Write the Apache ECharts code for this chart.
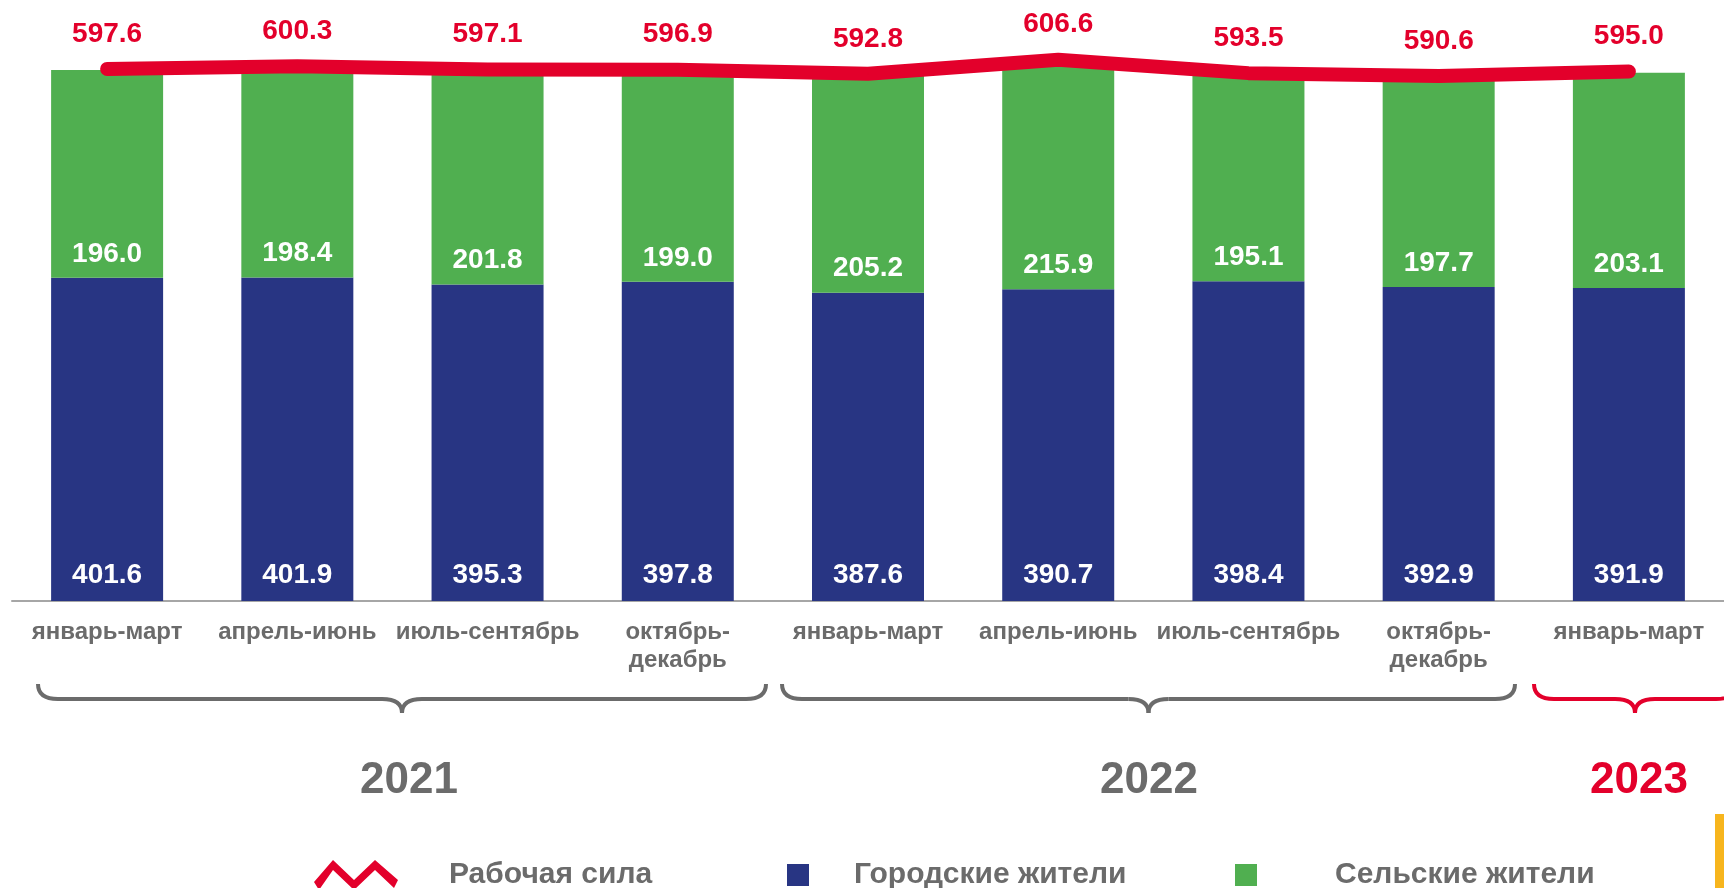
<!DOCTYPE html>
<html>
<head>
<meta charset="utf-8">
<script src="https://cdn.jsdelivr.net/npm/echarts@6/dist/echarts.min.js"></script>
<style>
  html, body { margin: 0; padding: 0; background: #fff; }
  #main { width: 1724px; height: 888px; }
</style>
</head>
<body>
<div id="main"></div>
<script>
// данные
var categories = ['январь-март', 'апрель-июнь', 'июль-сентябрь', 'октябрь-\nдекабрь',
                  'январь-март', 'апрель-июнь', 'июль-сентябрь', 'октябрь-\nдекабрь',
                  'январь-март']
var urban = [401.6, 401.9, 395.3, 397.8, 387.6, 390.7, 398.4, 392.9, 391.9]
var rural = [196.0, 198.4, 201.8, 199.0, 205.2, 215.9, 195.1, 197.7, 203.1]
var labour = [597.6, 600.3, 597.1, 596.9, 592.8, 606.6, 593.5, 590.6, 595.0]
var years = ['2021', '2022', '2023']

var RED = '#e3002b', BLUE = '#283583', GREEN = '#50af50', GRAY = '#6b6b6b'
var FONT = '"Liberation Sans", Arial, sans-serif'

var myChart = echarts.init(document.getElementById('main'))

// значок "Рабочая сила" - толстый зигзаг
var zigzag = 'path://M0,22 L19,0 L40,20 L61,0 L84,20 L80,28 L61,10 L40,30 L19,10 L5,30 Z'

function valueLabel(color, pos, dist) {
  return {
    show: true, position: pos, distance: dist,
    color: color, fontSize: 28, fontWeight: 'bold', fontFamily: FONT,
    formatter: function (p) { return p.value.toFixed(1) }
  }
}

var legendText = { color: GRAY, fontSize: 30, fontWeight: 'bold', fontFamily: FONT }

myChart.setOption({
  animation: false,
  textStyle: { fontFamily: FONT },
  grid: { left: 12, top: 15, width: 1728, height: 586, containLabel: false },
  legend: [{
    left: 309, top: 855,
    itemWidth: 84, itemHeight: 30,
    data: [{ name: 'Рабочая сила', icon: zigzag }],
    textStyle: Object.assign({ padding: [0, 0, 0, 46] }, legendText)
  }, {
    left: 782, top: 855,
    itemWidth: 22, itemHeight: 22,
    data: [{ name: 'Городские жители', icon: 'rect' }],
    textStyle: Object.assign({ padding: [0, 0, 0, 40] }, legendText)
  }, {
    left: 1230, top: 855,
    itemWidth: 22, itemHeight: 22,
    data: [{ name: 'Сельские жители', icon: 'rect' }],
    textStyle: Object.assign({ padding: [0, 0, 0, 73] }, legendText)
  }],
  xAxis: {
    type: 'category',
    data: categories,
    axisLine: { lineStyle: { color: '#a6a6a6', width: 2 } },
    axisTick: { show: false },
    axisLabel: {
      interval: 0, margin: 17,
      color: GRAY, fontSize: 24, fontWeight: 'bold', lineHeight: 28, fontFamily: FONT
    }
  },
  yAxis: [{
    type: 'value', min: 96.7, max: 649.5, startValue: 96.7,
    show: false, splitLine: { show: false }
  }, {
    type: 'value', min: 76, max: 650.5,
    show: false, splitLine: { show: false }
  }],
  series: [{
    name: 'Городские жители',
    type: 'bar', stack: 'pop', barWidth: 112,
    data: urban,
    itemStyle: { color: BLUE },
    label: valueLabel('#fff', 'insideBottom', 12)
  }, {
    name: 'Сельские жители',
    type: 'bar', stack: 'pop', barWidth: 112,
    data: rural,
    itemStyle: { color: GREEN },
    label: valueLabel('#fff', 'insideBottom', 10)
  }, {
    name: 'Рабочая сила',
    type: 'line', yAxisIndex: 1, z: 5,
    data: labour,
    symbol: 'circle', symbolSize: 2, showSymbol: true,
    itemStyle: { color: RED },
    lineStyle: { color: RED, width: 14, cap: 'round', join: 'round' },
    label: valueLabel(RED, 'top', 20)
  }]
})

// фигурные скобки и годы под осью
function brace(x1, x2, top, mid, tip, color) {
  var xm = (x1 + x2) / 2, r = 20
  var st = { stroke: color, lineWidth: 4, fill: null }
  return {
    type: 'group', silent: true,
    children: [
      { type: 'bezierCurve', shape: { x1: x1, y1: top, x2: x1 + r, y2: mid, cpx1: x1, cpy1: mid }, style: st },
      { type: 'line', shape: { x1: x1 + r, y1: mid, x2: xm - r, y2: mid }, style: st },
      { type: 'bezierCurve', shape: { x1: xm - r, y1: mid, x2: xm, y2: tip, cpx1: xm, cpy1: mid }, style: st },
      { type: 'bezierCurve', shape: { x1: xm, y1: tip, x2: xm + r, y2: mid, cpx1: xm, cpy1: mid }, style: st },
      { type: 'line', shape: { x1: xm + r, y1: mid, x2: x2 - r, y2: mid }, style: st },
      { type: 'bezierCurve', shape: { x1: x2 - r, y1: mid, x2: x2, y2: top, cpx1: x2, cpy1: mid }, style: st }
    ]
  }
}
var braces = [[38, 766, GRAY], [782, 1515, GRAY], [1534, 1736, RED]]
var yearX = [409, 1149, 1639]
var graphics = []
braces.forEach(function (b, i) {
  graphics.push(brace(b[0], b[1], 684, 699, 713, b[2]))
  graphics.push({
    type: 'text', silent: true,
    x: yearX[i], y: 781,
    style: {
      text: years[i], fill: i == 2 ? RED : GRAY,
      font: 'bold 44px ' + FONT, align: 'center', verticalAlign: 'middle'
    }
  })
})
graphics.push({
  type: 'rect', silent: true,
  shape: { x: 1715, y: 814, width: 9, height: 74 },
  style: { fill: '#f7b51d' }
})
myChart.setOption({ graphic: graphics })
</script>
</body>
</html>
